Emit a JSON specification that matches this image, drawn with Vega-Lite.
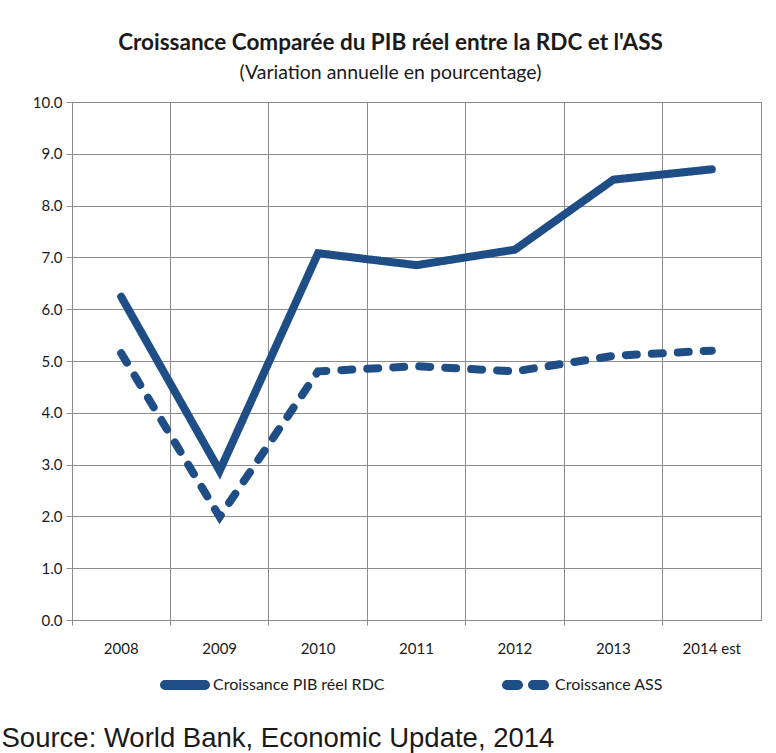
{
  "$schema": "https://vega.github.io/schema/vega-lite/v6.json",
  "width": 689,
  "height": 518,
  "autosize": {"type": "none"},
  "padding": {"left": 72, "top": 102, "right": 15, "bottom": 133},
  "background": "white",
  "title": {
    "text": "Croissance Comparée du PIB réel entre la RDC et  l'ASS",
    "subtitle": "(Variation annuelle en pourcentage)",
    "anchor": "middle",
    "dx": -26,
    "offset": 13,
    "font": "Lato",
    "fontSize": 22.5,
    "fontWeight": "bold",
    "color": "#1a1a1a",
    "subtitleFont": "Lato",
    "subtitleFontSize": 19.5,
    "subtitleColor": "#1a1a1a",
    "subtitlePadding": 9
  },
  "data": {
    "values": [
      {"year": "2008", "series": "Croissance PIB réel RDC", "value": 6.24},
      {"year": "2009", "series": "Croissance PIB réel RDC", "value": 2.88},
      {"year": "2010", "series": "Croissance PIB réel RDC", "value": 7.08},
      {"year": "2011", "series": "Croissance PIB réel RDC", "value": 6.85},
      {"year": "2012", "series": "Croissance PIB réel RDC", "value": 7.15},
      {"year": "2013", "series": "Croissance PIB réel RDC", "value": 8.5},
      {"year": "2014 est", "series": "Croissance PIB réel RDC", "value": 8.7},
      {"year": "2008", "series": "Croissance ASS", "value": 5.15},
      {"year": "2009", "series": "Croissance ASS", "value": 1.99},
      {"year": "2010", "series": "Croissance ASS", "value": 4.8},
      {"year": "2011", "series": "Croissance ASS", "value": 4.9},
      {"year": "2012", "series": "Croissance ASS", "value": 4.8},
      {"year": "2013", "series": "Croissance ASS", "value": 5.1},
      {"year": "2014 est", "series": "Croissance ASS", "value": 5.2}
    ]
  },
  "mark": {"type": "line", "color": "#1F4E87", "strokeWidth": 8, "strokeCap": "round", "strokeJoin": "miter"},
  "encoding": {
    "x": {
      "field": "year",
      "type": "ordinal",
      "bandPosition": 0.5,
      "scale": {"type": "band", "paddingInner": 0, "paddingOuter": 0},
      "axis": {
        "bandPosition": 0,
        "grid": true,
        "gridColor": "#8c8c8c",
        "gridOpacity": 1,
        "labelAngle": 0,
        "labelFont": "Lato",
        "labelFontSize": 15,
        "labelColor": "#1a1a1a",
        "labelPadding": 16,
        "ticks": true,
        "tickSize": 5,
        "tickColor": "#8c8c8c",
        "domainColor": "#8c8c8c",
        "title": "Source: World Bank, Economic Update, 2014",
        "titleFont": "Liberation Sans",
        "titleFontSize": 27.5,
        "titleFontWeight": "normal",
        "titleColor": "#1a1a1a",
        "titleAnchor": "start",
        "titleAlign": "left",
        "titleBaseline": "alphabetic",
        "titleX": -71,
        "titleY": 126
      }
    },
    "y": {
      "field": "value",
      "type": "quantitative",
      "scale": {"domain": [0, 10]},
      "axis": {
        "values": [0, 1, 2, 3, 4, 5, 6, 7, 8, 9, 10],
        "format": ".1f",
        "grid": true,
        "gridColor": "#8c8c8c",
        "gridOpacity": 1,
        "tickColor": "#8c8c8c",
        "tickSize": 6,
        "domainColor": "#8c8c8c",
        "labelFont": "Lato",
        "labelFontSize": 15,
        "labelColor": "#1a1a1a",
        "labelPadding": 4,
        "title": null
      }
    },
    "strokeDash": {
      "field": "series",
      "type": "nominal",
      "scale": {
        "domain": ["Croissance PIB réel RDC", "Croissance ASS"],
        "range": [[1, 0], [11, 15]]
      },
      "legend": {
        "orient": "none",
        "legendX": 88,
        "legendY": 558,
        "direction": "horizontal",
        "title": null,
        "symbolType": "stroke",
        "symbolSize": 1600,
        "symbolStrokeWidth": 10,
        "symbolStrokeColor": "#1F4E87",
        "labelFont": "Lato",
        "labelFontSize": 16,
        "labelColor": "#1a1a1a",
        "labelOffset": 3,
        "labelLimit": 400,
        "columnPadding": 102,
        "encode": {
          "symbols": {"update": {"strokeCap": {"value": "round"}}}
        }
      }
    }
  },
  "config": {
    "view": {"stroke": "#8c8c8c", "strokeWidth": 1}
  }
}
